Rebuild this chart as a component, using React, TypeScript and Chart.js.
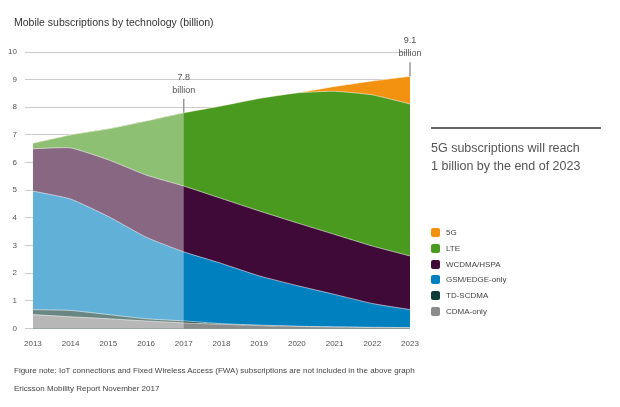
import React, { useEffect, useRef } from "react";
import { Chart, registerables } from "chart.js";
Chart.register(...registerables);

const years = ["2013","2014","2015","2016","2017","2018","2019","2020","2021","2022","2023"];
const cdma = [0.5,0.42,0.35,0.27,0.2,0.15,0.1,0.07,0.05,0.03,0.02];
const tdscdma = [0.18,0.23,0.15,0.08,0.07,0.02,0.02,0.01,0.0,0.01,0.01];
const gsm = [4.29,4.03,3.55,2.95,2.5,2.18,1.78,1.47,1.18,0.86,0.65];
const wcdma = [1.53,1.85,2.05,2.25,2.38,2.35,2.35,2.27,2.17,2.08,1.94];
const lte = [0.2,0.47,1.12,1.95,2.65,3.35,4.07,4.7,5.18,5.47,5.5];
const fiveG = [0,0,0,0,0,0,0,0.0,0.17,0.5,1.0];
const yTicks = [0,1,2,3,4,5,6,7,8,9,10];

const FONT = "'Liberation Sans', Arial, sans-serif";

export default function App() {
  const ref = useRef<HTMLCanvasElement>(null);
  useEffect(() => {
    const mk = (label: string, data: number[], color: string) => ({
      label, data, backgroundColor: color, borderColor: "rgba(255,255,255,0.7)", borderWidth: 0.8,
      fill: true, pointRadius: 0, tension: 0.15,
    });
    const overlay = {
      id: "overlay",
      afterDatasetsDraw(chart: any) {
        const { ctx, scales: { x, y }, chartArea } = chart;
        const x0 = x.getPixelForValue(0), x1 = x.getPixelForValue(4);
        ctx.save();
        // clip overlay to stacked area only
        const meta = chart.getDatasetMeta(5);
        ctx.beginPath();
        ctx.moveTo(x0, chartArea.bottom);
        for (let i = 0; i <= 4; i++) {
          const p = meta.data[i];
          ctx.lineTo(p.x, p.y);
        }
        ctx.lineTo(x1, chartArea.bottom);
        ctx.closePath();
        ctx.fillStyle = "rgba(255,255,255,0.38)";
        ctx.fill();
        ctx.strokeStyle = "#999"; ctx.lineWidth = 1.5;
        ctx.fillStyle = "#555"; ctx.font = `9px ${FONT}`; ctx.textAlign = "center";
        const ann = (i: number, v: number, txt: string) => {
          const px = x.getPixelForValue(i);
          const py = y.getPixelForValue(v);
          ctx.beginPath(); ctx.moveTo(px, py); ctx.lineTo(px, py - 14); ctx.stroke();
          ctx.fillText(txt, px, py - 33);
          ctx.fillText("billion", px, py - 20);
        };
        ann(4, 7.8, "7.8");
        ann(10, 9.12, "9.1");
        ctx.restore();
      },
    };
    const chart = new Chart(ref.current!, {
      type: "line",
      data: {
        labels: years,
        datasets: [
          mk("CDMA-only", cdma, "#8c8c8c"),
          mk("TD-SCDMA", tdscdma, "#0f3d36"),
          mk("GSM/EDGE-only", gsm, "#0080bf"),
          mk("WCDMA/HSPA", wcdma, "#3f0a38"),
          mk("LTE", lte, "#4a9a1f"),
          mk("5G", fiveG, "#f39110"),
        ],
      },
      options: {
        animation: false, responsive: false, maintainAspectRatio: false,
        layout: { padding: { left: 0, right: 210, top: 52, bottom: 55 } },
        plugins: { legend: { display: false }, tooltip: { enabled: false } },
        scales: {
          x: {
            offset: false,
            grid: { display: false }, border: { display: false },
            ticks: { color: "#555", font: { family: FONT, size: 8 }, maxRotation: 0, autoSkip: false },
          },
          y: {
            stacked: true, min: 0, max: 10,
            afterBuildTicks: (s: any) => { s.ticks = yTicks.map(v => ({ value: v })); },
            grid: { color: "#ccc", lineWidth: 1 }, border: { display: false },
            ticks: { color: "#555", font: { family: FONT, size: 8 }, padding: 8 },
          },
        },
      },
      plugins: [overlay],
    });
    return () => chart.destroy();
  }, []);
  const legend = [["5G","#f39110"],["LTE","#4a9a1f"],["WCDMA/HSPA","#3f0a38"],["GSM/EDGE-only","#0080bf"],["TD-SCDMA","#0f3d36"],["CDMA-only","#8c8c8c"]];
  return (
    <div style={{ position: "fixed", left: 0, top: 0, width: 620, height: 407, background: "#fff", fontFamily: FONT, color: "#333" }}>
      <canvas ref={ref} width={620} height={407} style={{ position: "absolute", left: 0, top: 0 }} />
      <div style={{ position: "absolute", left: 14, top: 16, fontSize: 10.5, color: "#333" }}>Mobile subscriptions by technology (billion)</div>
      <div style={{ position: "absolute", left: 431, top: 127, width: 170, borderTop: "2px solid #666" }} />
      <div style={{ position: "absolute", left: 431, top: 139, fontSize: 12.5, lineHeight: "18px", color: "#555" }}>5G subscriptions will reach<br />1 billion by the end of 2023</div>
      <div style={{ position: "absolute", left: 431, top: 225 }}>
        {legend.map(([l, c]) => (
          <div key={l} style={{ display: "flex", alignItems: "center", height: 15.7, fontSize: 8, color: "#444" }}>
            <span style={{ width: 9, height: 9, borderRadius: 2, background: c, marginRight: 6 }} />{l}
          </div>
        ))}
      </div>
      <div style={{ position: "absolute", left: 14, top: 366, fontSize: 8, color: "#444" }}>Figure note: IoT connections and Fixed Wireless Access (FWA) subscriptions are not included in the above graph</div>
      <div style={{ position: "absolute", left: 14, top: 384, fontSize: 8, color: "#444" }}>Ericsson Mobility Report November 2017</div>
    </div>
  );
}
